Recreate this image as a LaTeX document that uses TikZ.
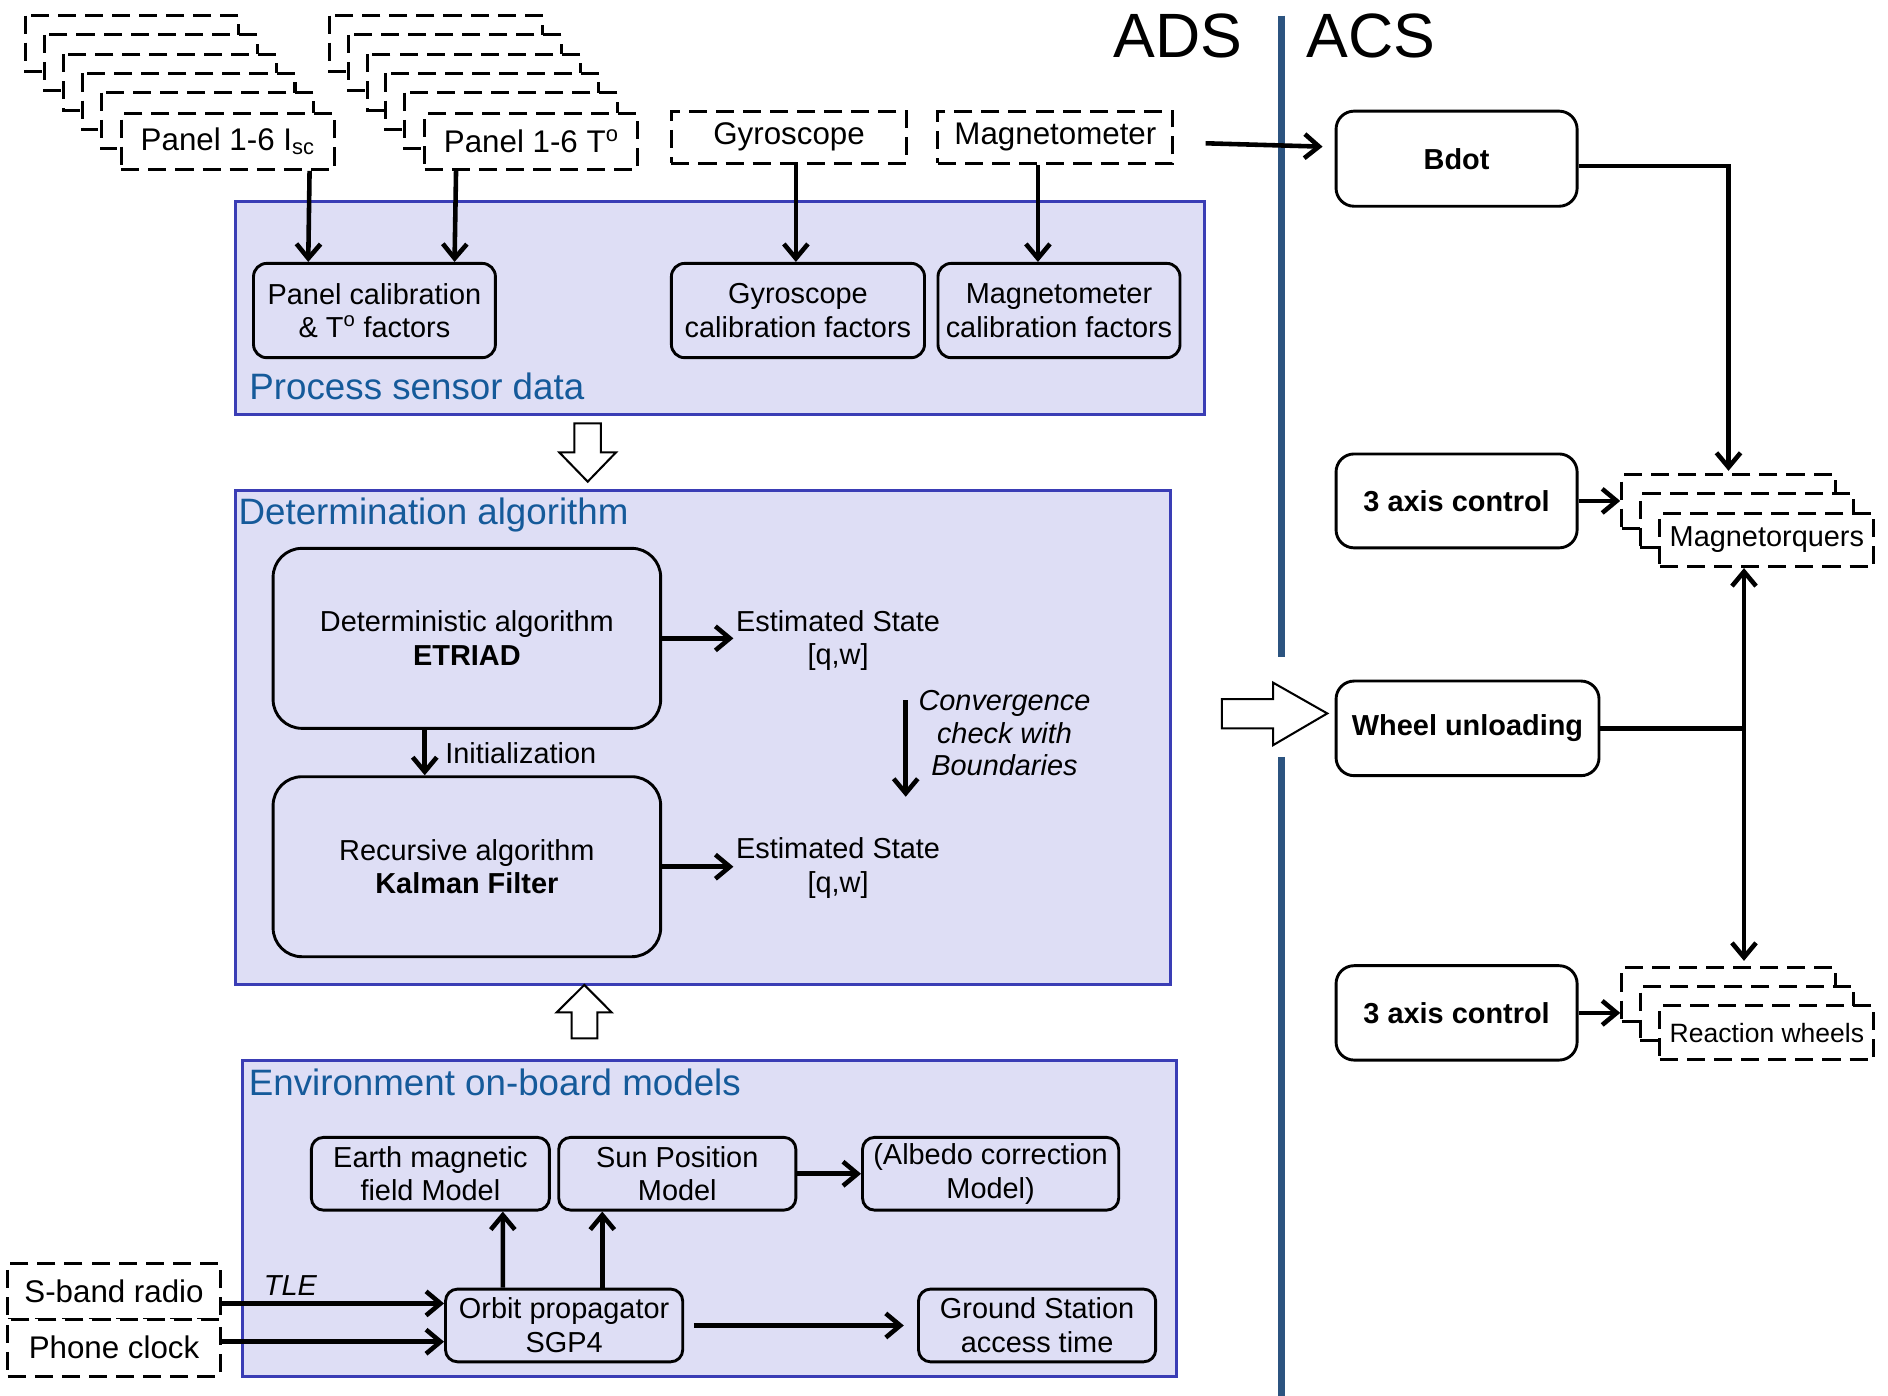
\documentclass[tikz,border=0pt]{standalone}
\usepackage{fontspec}
\setmainfont{Liberation Sans}
\usetikzlibrary{arrows.meta}
\definecolor{regfill}{RGB}{222,222,245}
\definecolor{regdraw}{RGB}{58,61,181}
\definecolor{regtext}{RGB}{21,90,154}
\definecolor{divline}{RGB}{44,84,128}
\newcommand\szbody{\fontsize{24}{28}\selectfont}
\newcommand\szconv{\fontsize{24}{27}\selectfont}
\newcommand\szin{\fontsize{26}{30}\selectfont}
\newcommand\sztitle{\fontsize{30.5}{34}\selectfont}
\newcommand\szbig{\fontsize{52}{60}\selectfont}
\newcommand\szsmall{\fontsize{22}{26}\selectfont}
\begin{document}
\begin{tikzpicture}[x=1pt,y=-1pt,
 region/.style={draw=regdraw,fill=regfill,line width=2.5pt},
 regtitle/.style={anchor=base west,text=regtext,font=\sztitle,inner sep=0pt},
 rbox/.style={draw,rounded corners=11pt,line width=2.4pt,inner sep=0pt,align=center,font=\szbody},
 bigbox/.style={rbox,rounded corners=24pt,minimum width=321.9pt,minimum height=149.5pt},
 acsbox/.style={rbox,fill=white,rounded corners=15pt,font=\szbody\bfseries},
 dbox/.style={draw,fill=white,line width=2.5pt,dash pattern=on 15pt off 7.5pt,inner sep=0pt,align=center},
 conn/.style={line width=3.8pt,-{Straight Barb[length=12pt,width=20pt]}},
 plainln/.style={line width=3.8pt},
 hollow/.style={draw,fill=white,line width=1.7pt,line join=miter},
 txt/.style={inner sep=0pt,align=center,font=\szbody}]
\useasboundingbox (0,0) rectangle (1568,1159);
\fill[white] (0,0) rectangle (1568,1159);

% divider
\draw[draw=divline,line width=6pt] (1064,13) -- (1064,545.4);
\draw[draw=divline,line width=6pt] (1064,628.5) -- (1064,1159);
\node[anchor=base east,inner sep=0pt,font=\szbig] (ads) at (1032,48) {ADS};
\node[anchor=base west,inner sep=0pt,font=\szbig] (acs) at (1085,48) {ACS};

% regions
\draw[region] (195.5,167) rectangle (1000.5,344);
\node[regtitle] (t1) at (207,332) {Process sensor data};
\draw[region] (195.7,407) rectangle (971.7,818);
\node[regtitle] (t2) at (198,436) {Determination algorithm};
\draw[region] (201.5,880.4) rectangle (976.7,1143.4);
\node[regtitle] (t3) at (206.5,909.5) {Environment on-board models};

% hollow arrows
\draw[hollow] (477,351.6) -- (499,351.6) -- (499,375.7) -- (511.6,375.7) -- (488.1,400) -- (464.5,375.7) -- (477,375.7) -- cycle;
\draw[hollow] (474.8,862.4) -- (496.1,862.4) -- (496.1,840.8) -- (508,840.8) -- (485.3,818) -- (462.3,840.8) -- (474.8,840.8) -- cycle;
\draw[hollow] (1014.8,580.6) -- (1057.4,580.6) -- (1057.4,567) -- (1102.3,592.5) -- (1057.4,618.8) -- (1057.4,604.9) -- (1014.8,604.9) -- cycle;

% sensor stacks
\foreach \i in {0,...,4}
  \draw[dbox] (21.5+15.6*\i,13+16*\i) rectangle ++(176.7,46.5);
\node[dbox,font=\szin,minimum width=176.7pt,minimum height=46.5pt,anchor=north west] (isc) at (99.5,93) {Panel 1-6 I\textsubscript{sc}};
\foreach \i in {0,...,4}
  \draw[dbox] (274+15.5*\i,13+16*\i) rectangle ++(176.9,46.5);
\node[dbox,font=\szin,minimum width=176.9pt,minimum height=46.5pt,anchor=north west] (pt) at (351.5,93) {Panel 1-6 T\textsuperscript{o}};
\node[dbox,font=\szin,minimum width=195.4pt,minimum height=43.5pt] (gyro) at (655.3,114) {Gyroscope};
\node[dbox,font=\szin,minimum width=195pt,minimum height=43.5pt] (mag) at (876.5,114) {Magnetometer};

% process boxes
\node[rbox,minimum width=200.9pt,minimum height=78.3pt] (pcal) at (311,257.9) {Panel calibration\\\& T\textsuperscript{o} factors};
\node[rbox,minimum width=210.2pt,minimum height=78.3pt] (gcal) at (662.7,257.9) {Gyroscope\\calibration factors};
\node[rbox,minimum width=201pt,minimum height=78.3pt] (mcal) at (879.5,257.9) {Magnetometer\\calibration factors};

\draw[conn] ([xshift=68pt]isc.south) -- ([xshift=-55pt]pcal.north);
\draw[conn] ([xshift=-62.45pt]pt.south) -- ([xshift=66.5pt]pcal.north);
\draw[conn] ([xshift=5.7pt]gyro.south) -- ([xshift=-1.7pt]gcal.north);
\draw[conn] ([xshift=-14.5pt]mag.south) -- ([xshift=-17.5pt]mcal.north);

% determination
\node[bigbox] (etriad) at (387.75,530.15) {Deterministic algorithm\\\textbf{ETRIAD}};
\node[bigbox] (kalman) at (387.75,719.8) {Recursive algorithm\\\textbf{Kalman Filter}};
\node[txt] (est1) at (696,532) {Estimated State\\{}[q,w]};
\node[txt] (est2) at (696,721) {Estimated State\\{}[q,w]};
\draw[conn,shorten >=2pt] (etriad.east) -- (etriad.east -| est1.west);
\draw[conn,shorten >=2pt] (kalman.east) -- (kalman.east -| est2.west);
\draw[conn] ([xshift=-35pt]etriad.south) -- ([xshift=-35pt]kalman.north);
\node[txt,anchor=base west] (initl) at (369.6,633.8) {Initialization};
\node[txt,font=\szconv\itshape] (conv) at (834.2,609) {Convergence\\check with\\Boundaries};
\coordinate (cva) at (752.2,581.4);
\coordinate (cvb) at (752.2,661.7);
\draw[conn] (cva) -- (cvb);

% environment
\node[rbox,rounded corners=10pt,minimum width=197.7pt,minimum height=60.4pt] (earth) at (357.45,974.8) {Earth magnetic\\field Model};
\node[rbox,rounded corners=10pt,minimum width=197pt,minimum height=60.4pt] (sun) at (562.5,974.8) {Sun Position\\Model};
\node[rbox,rounded corners=10pt,minimum width=212.8pt,minimum height=60.4pt] (albedo) at (822.7,974.8) {(Albedo correction\\Model)};
\node[rbox,rounded corners=10pt,minimum width=197pt,minimum height=60.4pt] (orbit) at (468.5,1100.8) {Orbit propagator\\SGP4};
\node[rbox,rounded corners=10pt,minimum width=197pt,minimum height=60.4pt] (ground) at (861.3,1100.8) {Ground Station\\access time};
\node[dbox,font=\szin,minimum width=176.6pt,minimum height=46.4pt] (sband) at (94.7,1072.5) {S-band radio};
\node[dbox,font=\szin,minimum width=176.6pt,minimum height=47.2pt] (phone) at (94.7,1119.3) {Phone clock};

\draw[conn] ([xshift=-50.9pt]orbit.north) -- ([xshift=60.15pt]earth.south);
\draw[conn] ([xshift=31.7pt]orbit.north) -- ([xshift=-62.3pt]sun.south);
\draw[conn] (sun.east) -- (albedo.west);
\draw[conn,shorten <=8pt,shorten >=11pt] (orbit.east) -- (ground.west);
\draw[conn] ([yshift=-10pt]sband.east) -- ([yshift=18.3pt]orbit.west);
\draw[conn] ([yshift=5pt]phone.east) -- ([yshift=-13.5pt]orbit.west);
\node[anchor=base west,inner sep=0pt,font=\szbody\itshape] (tle) at (219,1075.6) {TLE};

% ACS
\node[acsbox,minimum width=200.2pt,minimum height=79pt] (bdot) at (1209.7,131.8) {Bdot};
\node[acsbox,minimum width=200.2pt,minimum height=78pt] (ax1) at (1209.7,416) {3 axis control};
\node[acsbox,minimum width=218.4pt,minimum height=78.6pt] (wu) at (1218.8,604.9) {Wheel unloading};
\node[acsbox,minimum width=200.2pt,minimum height=78.4pt] (ax2) at (1209.7,841.2) {3 axis control};

\node[dbox,minimum width=177.4pt,minimum height=44.5pt,anchor=north west] (mq1) at (1345.6,393) {};
\node[dbox,minimum width=177.4pt,minimum height=44.5pt,anchor=north west] (mq2) at (1361,409) {};
\node[dbox,font=\szbody,minimum width=177.7pt,minimum height=44.5pt,anchor=north west] (mq3) at (1377.3,424.8) {Magnetorquers};
\node[dbox,minimum width=177.4pt,minimum height=45pt,anchor=north west] (rw1) at (1345.6,802) {};
\node[dbox,minimum width=177.4pt,minimum height=45pt,anchor=north west] (rw2) at (1361,818) {};
\node[dbox,font=\szsmall,minimum width=177.7pt,minimum height=45pt,anchor=north west] (rw3) at (1377.3,833.9) {Reaction wheels};

\draw[conn] ([xshift=26pt,yshift=-5pt]mag.east) -- ([xshift=-10pt,yshift=10pt]bdot.west);
\draw[conn,shorten >=2pt] ([yshift=-6pt]bdot.east) -| (mq1.north);
\draw[conn] (ax1.east) -- (ax1.east -| mq1.west);
\coordinate (jct) at (1448.4,604.9);
\draw[plainln] (wu.east) -- (jct);
\draw[conn] (jct) -- (jct |- mq3.south);
\draw[conn,shorten >=4pt] (jct) -- (jct |- rw1.north);
\draw[conn] (ax2.east) -- (ax2.east -| rw1.west);
\end{tikzpicture}
\end{document}
